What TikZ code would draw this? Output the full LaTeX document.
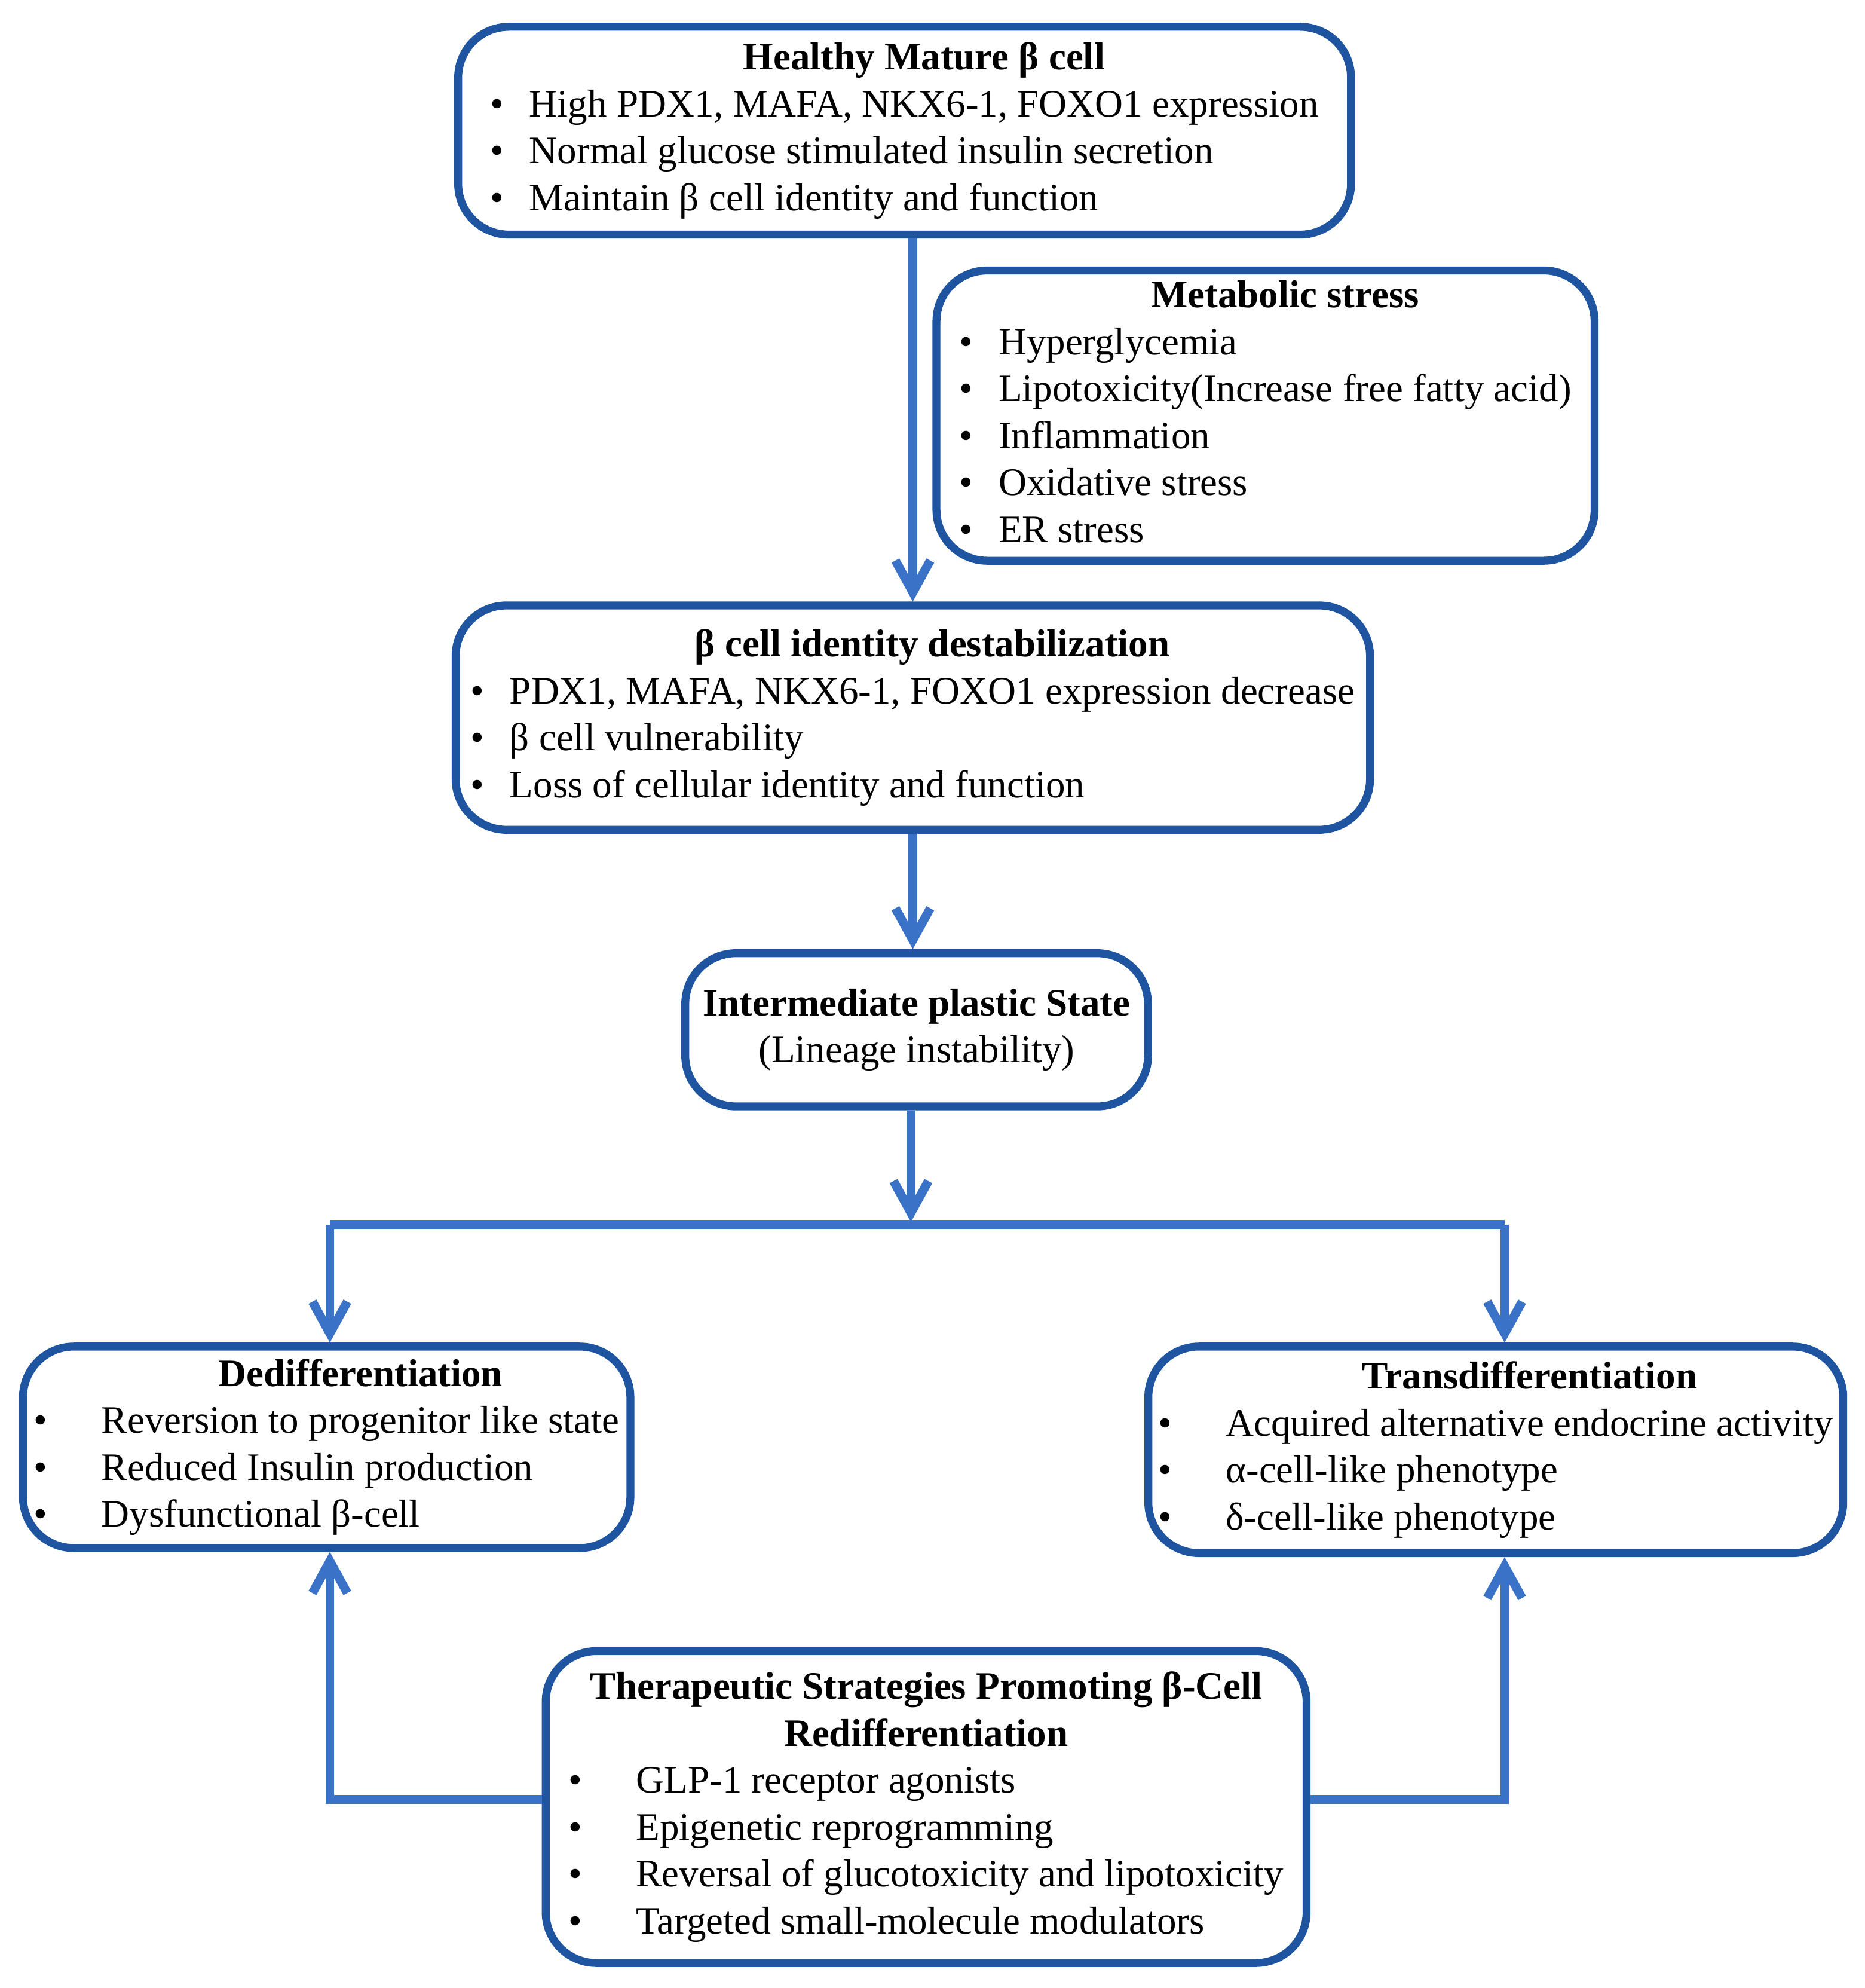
\documentclass[tikz,border=0pt]{standalone}
\usepackage{fontspec}
\setmainfont{Liberation Serif}
\usetikzlibrary{arrows.meta}
\definecolor{boxblue}{HTML}{1F55A0}
\definecolor{arrowblue}{HTML}{3A72C8}

\begin{document}
\begin{tikzpicture}
[x=0.4pt, y=-0.4pt, font=\fontsize{12.25}{14.8}\selectfont,
stage/.style={rectangle, rounded corners=16pt, draw=boxblue, line width=2.5pt, inner sep=0pt, align=center},
arr/.style={draw=arrowblue, line width=2.8pt, -{Straight Barb[length=10pt, width=11pt]}},
link/.style={draw=arrowblue, line width=3.1pt}]

\useasboundingbox (0,0) rectangle (1470,1566.6);

\node[stage, minimum width=281.5pt, minimum height=65.5pt] (healthy) at (713,103) {%
\begin{tabular}{@{}c@{\hspace{8pt}}l@{}}
 & \multicolumn{1}{c}{\textbf{Healthy Mature β cell}}\\
• & High PDX1, MAFA, NKX6-1, FOXO1 expression\\
• & Normal glucose stimulated insulin secretion\\
• & Maintain β cell identity and function
\end{tabular}};

\node[stage, minimum width=207.5pt, minimum height=91.5pt] (stress) at (997.5,327.5) {%
\begin{tabular}{@{}c@{\hspace{8pt}}l@{}}
 & \multicolumn{1}{c}{\textbf{Metabolic stress}}\\
• & Hyperglycemia\\
• & Lipotoxicity(Increase free fatty acid)\\
• & Inflammation\\
• & Oxidative stress\\
• & ER stress
\end{tabular}};

\node[stage, minimum width=288.3pt, minimum height=70.7pt] (destab) at (719.5,565.5) {%
\begin{tabular}{@{}c@{\hspace{8pt}}l@{}}
 & \multicolumn{1}{c}{\textbf{β cell identity destabilization}}\\
• & PDX1, MAFA, NKX6-1, FOXO1 expression decrease\\
• & β cell vulnerability\\
• & Loss of cellular identity and function
\end{tabular}};

\node[stage, minimum width=145.9pt, minimum height=48.3pt] (plastic) at (722.5,811.5)
  {\textbf{Intermediate plastic State}\\(Lineage instability)};

\node[stage, minimum width=191.5pt, minimum height=63.5pt] (dediff) at (257.5,1140.5) {%
\begin{tabular}{@{}c@{\hspace{17pt}}l@{}}
 & \multicolumn{1}{c}{\textbf{Dedifferentiation}}\\
• & Reversion to progenitor like state\\
• & Reduced Insulin production\\
• & Dysfunctional β-cell
\end{tabular}};

\node[stage, minimum width=219.1pt, minimum height=65.1pt] (trans) at (1179,1142.5) {%
\begin{tabular}{@{}c@{\hspace{17pt}}l@{}}
 & \multicolumn{1}{c}{\textbf{Transdifferentiation}}\\
• & Acquired alternative endocrine activity\\
• & α-cell-like phenotype\\
• & δ-cell-like phenotype
\end{tabular}};

\node[stage, minimum width=239.9pt, minimum height=98.3pt] (therapy) at (730,1424) {%
\begin{tabular}{@{}c@{\hspace{17pt}}l@{}}
\multicolumn{2}{c}{\textbf{Therapeutic Strategies Promoting β-Cell}}\\
\multicolumn{2}{c}{\textbf{Redifferentiation}}\\
• & GLP-1 receptor agonists\\
• & Epigenetic reprogramming\\
• & Reversal of glucotoxicity and lipotoxicity\\
• & Targeted small-molecule modulators
\end{tabular}};

\coordinate (split) at (718,963);
\coordinate (lft) at (260,965);
\coordinate (rgt) at (1186,965);

\draw[arr] (destab.north |- healthy.south) -- (destab.north);
\draw[arr] (destab.south) -- (destab.south |- plastic.north);
\draw[arr] (plastic.south -| split) -- (split);
\draw[link] (lft) -- (rgt);
\draw[arr] (lft) -- (lft |- dediff.north);
\draw[arr] (rgt) -- (rgt |- trans.north);
\draw[arr] ([yshift=2.4pt]therapy.west) -| (lft |- dediff.south);
\draw[arr] ([yshift=2.4pt]therapy.east) -| (rgt |- trans.south);
\end{tikzpicture}
\end{document}
